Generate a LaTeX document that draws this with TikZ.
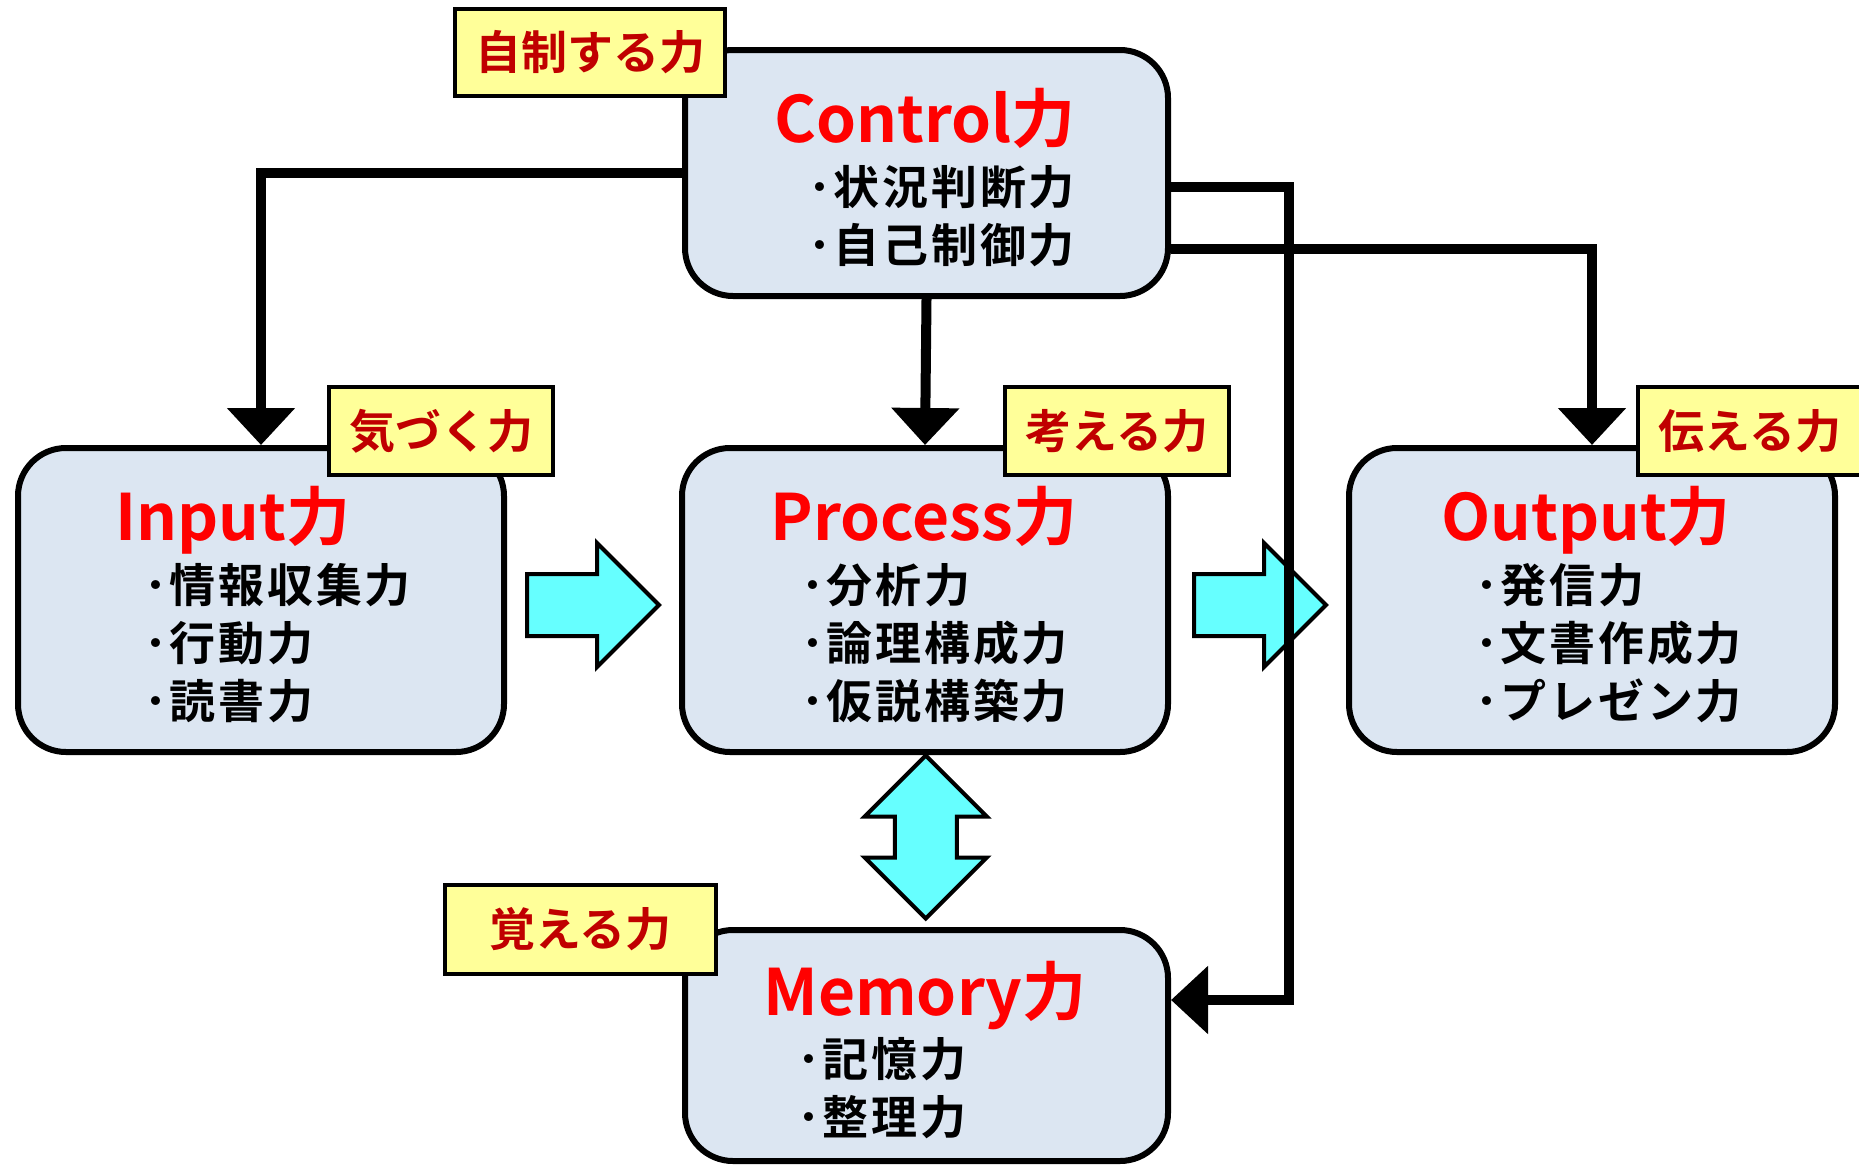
\documentclass[tikz,border=0pt]{standalone}
\usepackage{fontspec}
\setmainfont{Noto Sans CJK JP}[BoldFont={Noto Sans CJK JP Bold}]
\usetikzlibrary{arrows.meta,positioning,shapes.arrows,calc}
\definecolor{boxfill}{RGB}{220,230,242}
\definecolor{tagfill}{RGB}{255,255,153}
\definecolor{tagred}{RGB}{192,0,0}
\definecolor{flowcyan}{RGB}{102,255,255}

\begin{document}
\begin{tikzpicture}[
  x=1pt,y=-1pt,
  skill/.style={draw,line width=6pt,rounded corners=48pt,fill=boxfill,inner sep=0pt,
    minimum width=486pt,minimum height=304pt},
  tag/.style={draw,line width=4pt,fill=tagfill,text=tagred,inner sep=0pt,
    font=\bfseries\fontsize{46}{46}\selectfont,minimum width=224pt,minimum height=88pt},
  title/.style={anchor=base,text=red,inner sep=0pt,font=\bfseries\fontsize{64}{64}\selectfont},
  items/.style={anchor=west,align=left,inner sep=0pt,
    font=\bfseries\fontsize{46}{58}\selectfont\addfontfeature{LetterSpace=6}},
  conn/.style={line width=10pt,-{Triangle[length=37pt,width=66pt]}},
  flow/.style={single arrow,draw,line width=4pt,fill=flowcyan,inner xsep=0pt,inner ysep=29pt,
    single arrow head extend=31pt,minimum height=132pt,anchor=west},
  flow2/.style={double arrow,draw,line width=4pt,fill=flowcyan,inner xsep=0pt,inner ysep=29pt,
    double arrow head extend=30pt,minimum height=163pt,rotate=90}
]
\useasboundingbox (0,0) rectangle (1859,1167);

% boxes
\node[skill,minimum width=483pt,minimum height=246pt] (ctl) at (926.5,173) {};
\node[skill] (inp) at (261,600) {};
\node[skill] (prc) at (925,600) {};
\node[skill] (out) at (1592,600) {};
\node[skill,minimum width=483pt,minimum height=231pt] (mem) at (926.5,1045.5) {};

% block arrows
\node[flow] (f1) at ([xshift=18pt,yshift=-5pt]inp.east) {};
\node[flow] (f2) at ([xshift=21pt,yshift=-5pt]prc.east) {};
\node[flow2,xshift=4pt] (f3) at ($(prc.south)!0.5!(mem.north)$) {};

% control lines
\draw[conn] (ctl.west) -| (inp.north);
\draw[conn] (ctl.south) -- (prc.north);
\draw[conn] ([yshift=-14pt]ctl.east) -- ++(118,0) |- ([yshift=45.5pt]mem.east);
\draw[conn] ([yshift=-76pt]ctl.east) -| (out.north);

% yellow tags
\node[tag,minimum width=270pt,minimum height=87pt] (tctl) at (590,52.5) {自制する力};
\node[tag] (tinp) at (441,431) {気づく力};
\node[tag] (tprc) at (1117,431) {考える力};
\node[tag] (tout) at (1750,431) {伝える力};
\node[tag,minimum width=271pt,minimum height=89pt] (tmem) at (580.5,929.5) {覚える力};

% titles
\node[title] (hctl) at (925,142) {Control力};
\node[title] (hinp) at (233,540) {Input力};
\node[title] (hprc) at (924,540) {Process力};
\node[title] (hout) at (1586,540) {Output力};
\node[title] (hmem) at (925,1015) {Memory力};

% items
\node[items] (lctl) at (808,216) {･状況判断力\\･自己制御力};
\node[items] (linp) at (144,643) {･情報収集力\\･行動力\\･読書力};
\node[items] (lprc) at (801,643) {･分析力\\･論理構成力\\･仮説構築力};
\node[items] (lout) at (1475,643) {･発信力\\･文書作成力\\･プレゼン力};
\node[items] (lmem) at (797,1088) {･記憶力\\･整理力};
\end{tikzpicture}
\end{document}
